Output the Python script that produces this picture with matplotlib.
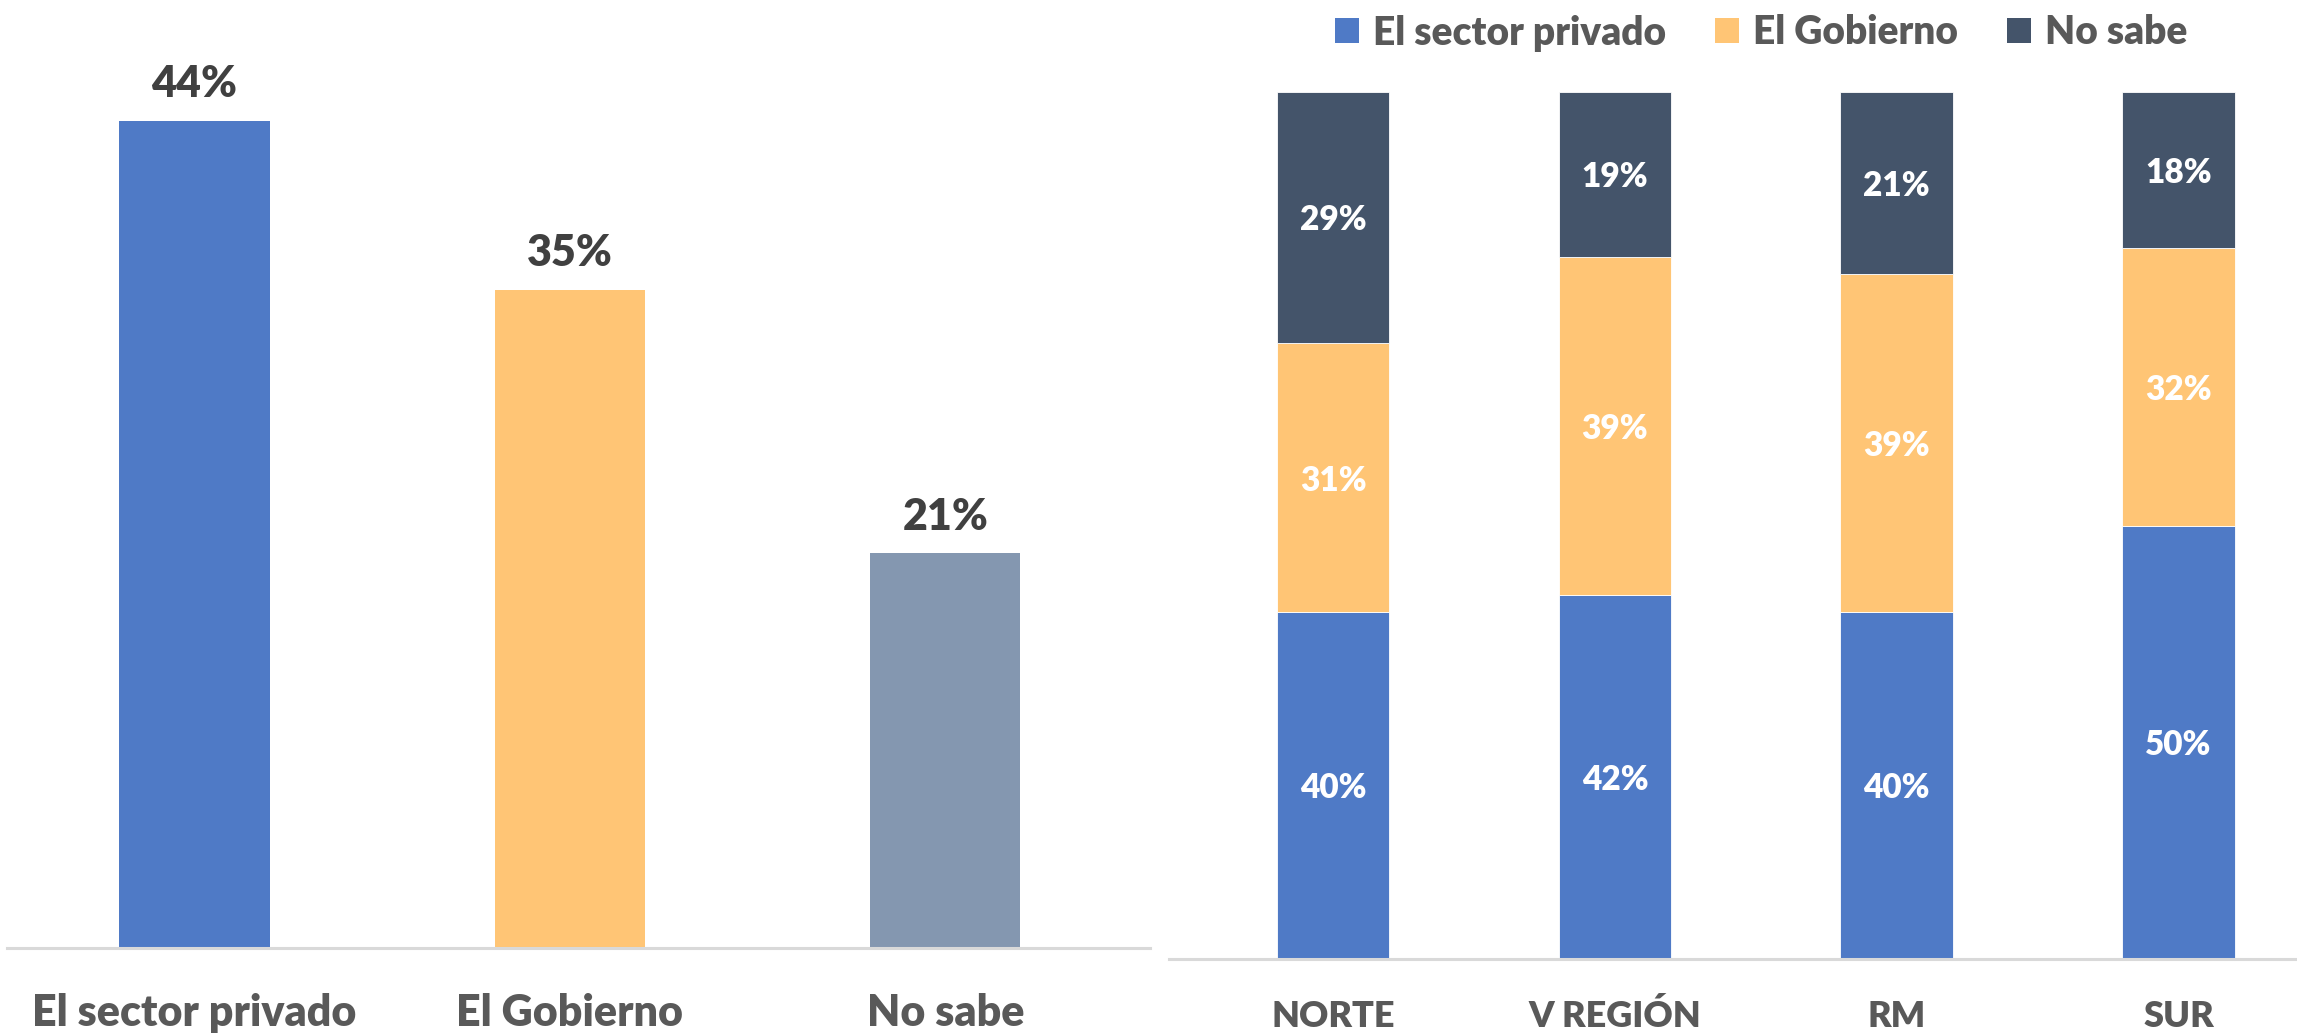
import matplotlib
matplotlib.use("Agg")
import matplotlib.pyplot as plt
import numpy as np
from matplotlib.patches import Patch

# ---- data ----
left_categories = ["El sector privado", "El Gobierno", "No sabe"]
left_values = [44, 35, 21]

regions = ["NORTE", "V REGIÓN", "RM", "SUR"]
series_names = ["El sector privado", "El Gobierno", "No sabe"]
privado = [40, 42, 40, 50]
gobierno = [31, 39, 39, 32]
no_sabe = [29, 19, 21, 18]

# ---- style ----
BLUE = "#4F7AC6"
ORANGE = "#FFC575"
GREYBLUE = "#8497B0"
NAVY = "#44546A"
AXIS_TXT = "#595959"
LBL_TXT = "#404040"
FONT = ["Lato", "DejaVu Sans"]
WEIGHT = "heavy"

plt.rcParams["font.family"] = FONT
plt.rcParams["font.weight"] = WEIGHT

W, H = 2297, 1034
fig = plt.figure(figsize=(W / 100, H / 100), dpi=100)
fig.patch.set_facecolor("white")


def style_axes(ax):
    for s in ["top", "right", "left"]:
        ax.spines[s].set_visible(False)
    ax.spines["bottom"].set_color("#D9D9D9")
    ax.spines["bottom"].set_linewidth(2.2)
    ax.set_yticks([])
    ax.tick_params(axis="x", length=0)
    ax.set_facecolor("none")


# ---- left chart ----
axL = fig.add_axes([7 / W, (H - 948) / H, (1150 - 7) / W, 948 / H])
xl = np.arange(len(left_categories))
barsL = axL.bar(xl, left_values, width=0.40,
                color=[BLUE, ORANGE, GREYBLUE], zorder=2)
axL.set_xlim(-0.4993, 2.545)
axL.set_ylim(0, 948 / 18.8)
style_axes(axL)
axL.set_xticks(xl, left_categories)
axL.tick_params(axis="x", pad=56)
for t in axL.get_xticklabels():
    t.set_fontsize(31)
    t.set_color(AXIS_TXT)
    t.set_fontweight(WEIGHT)
    t.set_verticalalignment("baseline")
for b, v in zip(barsL, left_values):
    axL.annotate(f"{v}%", (b.get_x() + b.get_width() / 2, b.get_height()),
                 xytext=(0, 17), textcoords="offset points",
                 ha="center", va="baseline", fontsize=31,
                 fontweight=WEIGHT, color=LBL_TXT)

# ---- right chart ----
axR = fig.add_axes([1169 / W, (H - 959) / H, (W - 1169) / W, 911 / H])
xr = np.arange(len(regions))
stack = [privado, gobierno, no_sabe]
colors = [BLUE, ORANGE, NAVY]
bottom = np.zeros(len(regions))
for vals, col, name in zip(stack, colors, series_names):
    bars = axR.bar(xr, vals, width=0.40, bottom=bottom, color=col,
                   edgecolor="white", linewidth=0.6, label=name, zorder=2)
    for b, v, bt in zip(bars, vals, bottom):
        axR.annotate(f"{v}%", (b.get_x() + b.get_width() / 2, bt + v / 2),
                     xytext=(0, -2), textcoords="offset points",
                     ha="center", va="center", fontsize=24,
                     fontweight=WEIGHT, color="white", zorder=3)
    bottom = bottom + np.array(vals)
axR.set_xlim(-0.582, 3.42)
axR.set_ylim(0, 911 / 8.67)
style_axes(axR)
axR.set_xticks(xr, regions)
axR.tick_params(axis="x", pad=49)
for t in axR.get_xticklabels():
    t.set_fontsize(26)
    t.set_color(AXIS_TXT)
    t.set_fontweight(WEIGHT)
    t.set_verticalalignment("baseline")

# ---- legend ----
handles = [Patch(facecolor=c, edgecolor="none") for c in colors]
leg = fig.legend(handles, series_names, loc="center left",
                 bbox_to_anchor=(1335 / W, 1 - 33 / H), ncol=3,
                 frameon=False, fontsize=28, borderpad=0, borderaxespad=0,
                 handlelength=0.62, handleheight=0.62, handletextpad=0.36,
                 columnspacing=1.25)
for t in leg.get_texts():
    t.set_color(AXIS_TXT)
    t.set_fontweight(WEIGHT)

fig.savefig("out.png", dpi=100, facecolor="white")
